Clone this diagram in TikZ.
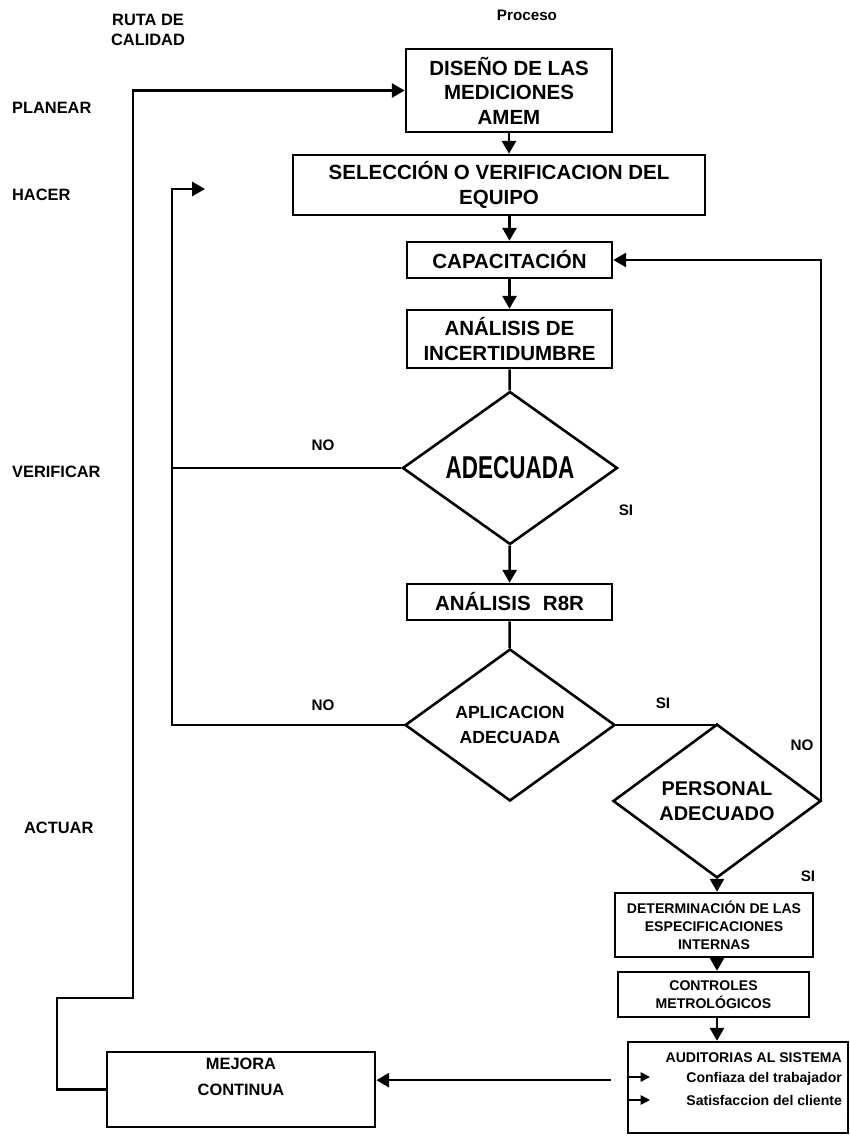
\documentclass[tikz,border=0pt]{standalone}
\usepackage{fontspec}
\setmainfont{Liberation Sans}
\usetikzlibrary{shapes.geometric,arrows.meta}

\begin{document}
\begin{tikzpicture}[x=0.03cm, y=-0.03cm,
        caja/.style={draw, line width=2.2pt, rectangle, align=center, inner sep=0pt,
            font=\bfseries\fontsize{17.5}{21}\selectfont},
        rombo/.style={draw, line width=2.2pt, diamond, align=center, inner sep=0pt,
            font=\bfseries\fontsize{15}{21}\selectfont},
        etiqueta/.style={font=\bfseries\fontsize{14}{17}\selectfont, align=left},
        resp/.style={font=\bfseries\fontsize{13}{15}\selectfont},
        chico/.style={font=\bfseries\fontsize{12}{15.5}\selectfont, align=center},
        linea/.style={line width=2.2pt},
        flecha/.style={line width=2.2pt, -{Triangle[length=11pt,width=12pt]}},
        flechita/.style={line width=1.4pt, -{Triangle[length=8pt,width=8pt]}}]
        \useasboundingbox (0,0) rectangle (850,1137);

        % columna de la ruta de calidad
        \node[etiqueta, align=center] (ruta) at (148,30) {RUTA DE\\CALIDAD};
        \node[etiqueta, anchor=west] (planear) at (8,108) {PLANEAR};
        \node[etiqueta, anchor=west] (hacer) at (8,195) {HACER};
        \node[etiqueta, anchor=west] (verificar) at (8,472) {VERIFICAR};
        \node[etiqueta, anchor=west] (actuar) at (20,828) {ACTUAR};
        \node[font=\bfseries\fontsize{13}{15}\selectfont] (proceso) at (527,15) {Proceso};

        % proceso
        \node[caja, minimum width=6.18cm, minimum height=2.49cm] (diseno) at (509,90.5)
            {DISEÑO DE LAS\\MEDICIONES\\AMEM};
        \node[caja, minimum width=12.36cm, minimum height=1.8cm] (equipo) at (499,185)
            {SELECCIÓN O VERIFICACION DEL\\EQUIPO};
        \node[caja, minimum width=6.15cm, minimum height=1.08cm] (capac) at (509.5,260)
            {CAPACITACIÓN};
        \node[caja, minimum width=6.15cm, minimum height=1.74cm] (incert) at (509.5,339)
            {ANÁLISIS DE\\INCERTIDUMBRE};
        \node[rombo, minimum width=6.45cm, minimum height=4.59cm] (adec) at (510,468)
            {\scalebox{0.71}[1]{\fontsize{27}{28}\selectfont ADECUADA}};
        \node[caja, minimum width=6.15cm, minimum height=1.08cm] (rr) at (509.5,602)
            {ANÁLISIS\hspace{0.6em}R8R};
        \node[rombo, minimum width=6.3cm, minimum height=4.56cm] (aplic) at (510,725)
            {APLICACION\\ADECUADA};
        \node[rombo, minimum width=6.24cm, minimum height=4.26cm,
            font=\bfseries\fontsize{17}{21}\selectfont] (personal) at (717,801)
            {PERSONAL\\ADECUADO};
        \node[caja, chico, minimum width=5.94cm, minimum height=1.92cm] (especif) at (714,925)
            {DETERMINACIÓN DE LAS\\ESPECIFICACIONES\\INTERNAS};
        \node[caja, chico, minimum width=5.73cm, minimum height=1.35cm] (control) at (713.5,994.5)
            {CONTROLES\\METROLÓGICOS};
        \node[caja, minimum width=6.6cm, minimum height=2.73cm] (audit) at (738,1087.5) {};
        \node[caja, minimum width=8.04cm, minimum height=2.25cm] (mejora) at (241,1089.5) {};
        \node[font=\bfseries\fontsize{14}{22}\selectfont, align=center] (mejoratxt) at (241,1077)
            {MEJORA\\CONTINUA};

        % texto de las auditorias
        \node[font=\bfseries\fontsize{12}{14}\selectfont, anchor=east] (auditxt) at (846,1058)
            {AUDITORIAS AL SISTEMA};
        \node[font=\bfseries\fontsize{12}{14}\selectfont, anchor=east] (confianza) at (846,1079)
            {Confiaza del trabajador};
        \node[font=\bfseries\fontsize{12}{14}\selectfont, anchor=east] (satisf) at (846,1100)
            {Satisfaccion del cliente};
        \coordinate (p1) at (628,1077);
        \coordinate (p2) at (650,1077);
        \coordinate (q1) at (628,1100);
        \coordinate (q2) at (650,1100);
        \draw[flechita] (p1) -- (p2);
        \draw[flechita] (q1) -- (q2);

        % respuestas
        \node[resp] (no1) at (323,445) {NO};
        \node[resp] (si1) at (626,510) {SI};
        \node[resp] (no2) at (323,705) {NO};
        \node[resp] (si2) at (663,703) {SI};
        \node[resp] (no3) at (802,745) {NO};
        \node[resp] (si3) at (808,876) {SI};

        % flujo principal
        \draw[flecha] (diseno.south) -- (diseno.south |- equipo.north);
        \draw[flecha] (equipo.south -| capac.north) -- (capac.north);
        \draw[flecha] (capac) -- (incert);
        \draw[linea] (incert) -- (adec);
        \draw[flecha] (adec) -- (rr);
        \draw[linea] (rr) -- (aplic);
        \draw[linea] (aplic.east) -| (personal.north);
        \draw[flecha] (personal.south) -- (personal.south |- especif.north);
        \draw[flecha] (personal.south |- especif.south) -- (personal.south |- control.north);
        \draw[flecha] (personal.south |- control.south) -- (personal.south |- audit.north);
        \draw[flecha] ([xshift=-0.48cm, yshift=0.22cm]audit.west)
            -- ([yshift=0.22cm]audit.west -| mejora.east);

        % retornos
        \coordinate (esq) at (172,189);
        \coordinate (ret) at (205,189);
        \draw[flecha] (aplic.west) -| (esq) -- (ret);
        \draw[linea] (adec.west) -- (adec.west -| esq);
        \coordinate (der) at (821,260);
        \draw[flecha] (personal.east) -| (der) -- (capac.east);
        \coordinate (baja) at (57,998);
        \coordinate (sube) at (133,998);
        \draw[flecha] (mejora.west) -| (baja) -- (sube) |- (diseno.west);
\end{tikzpicture}
\end{document}
